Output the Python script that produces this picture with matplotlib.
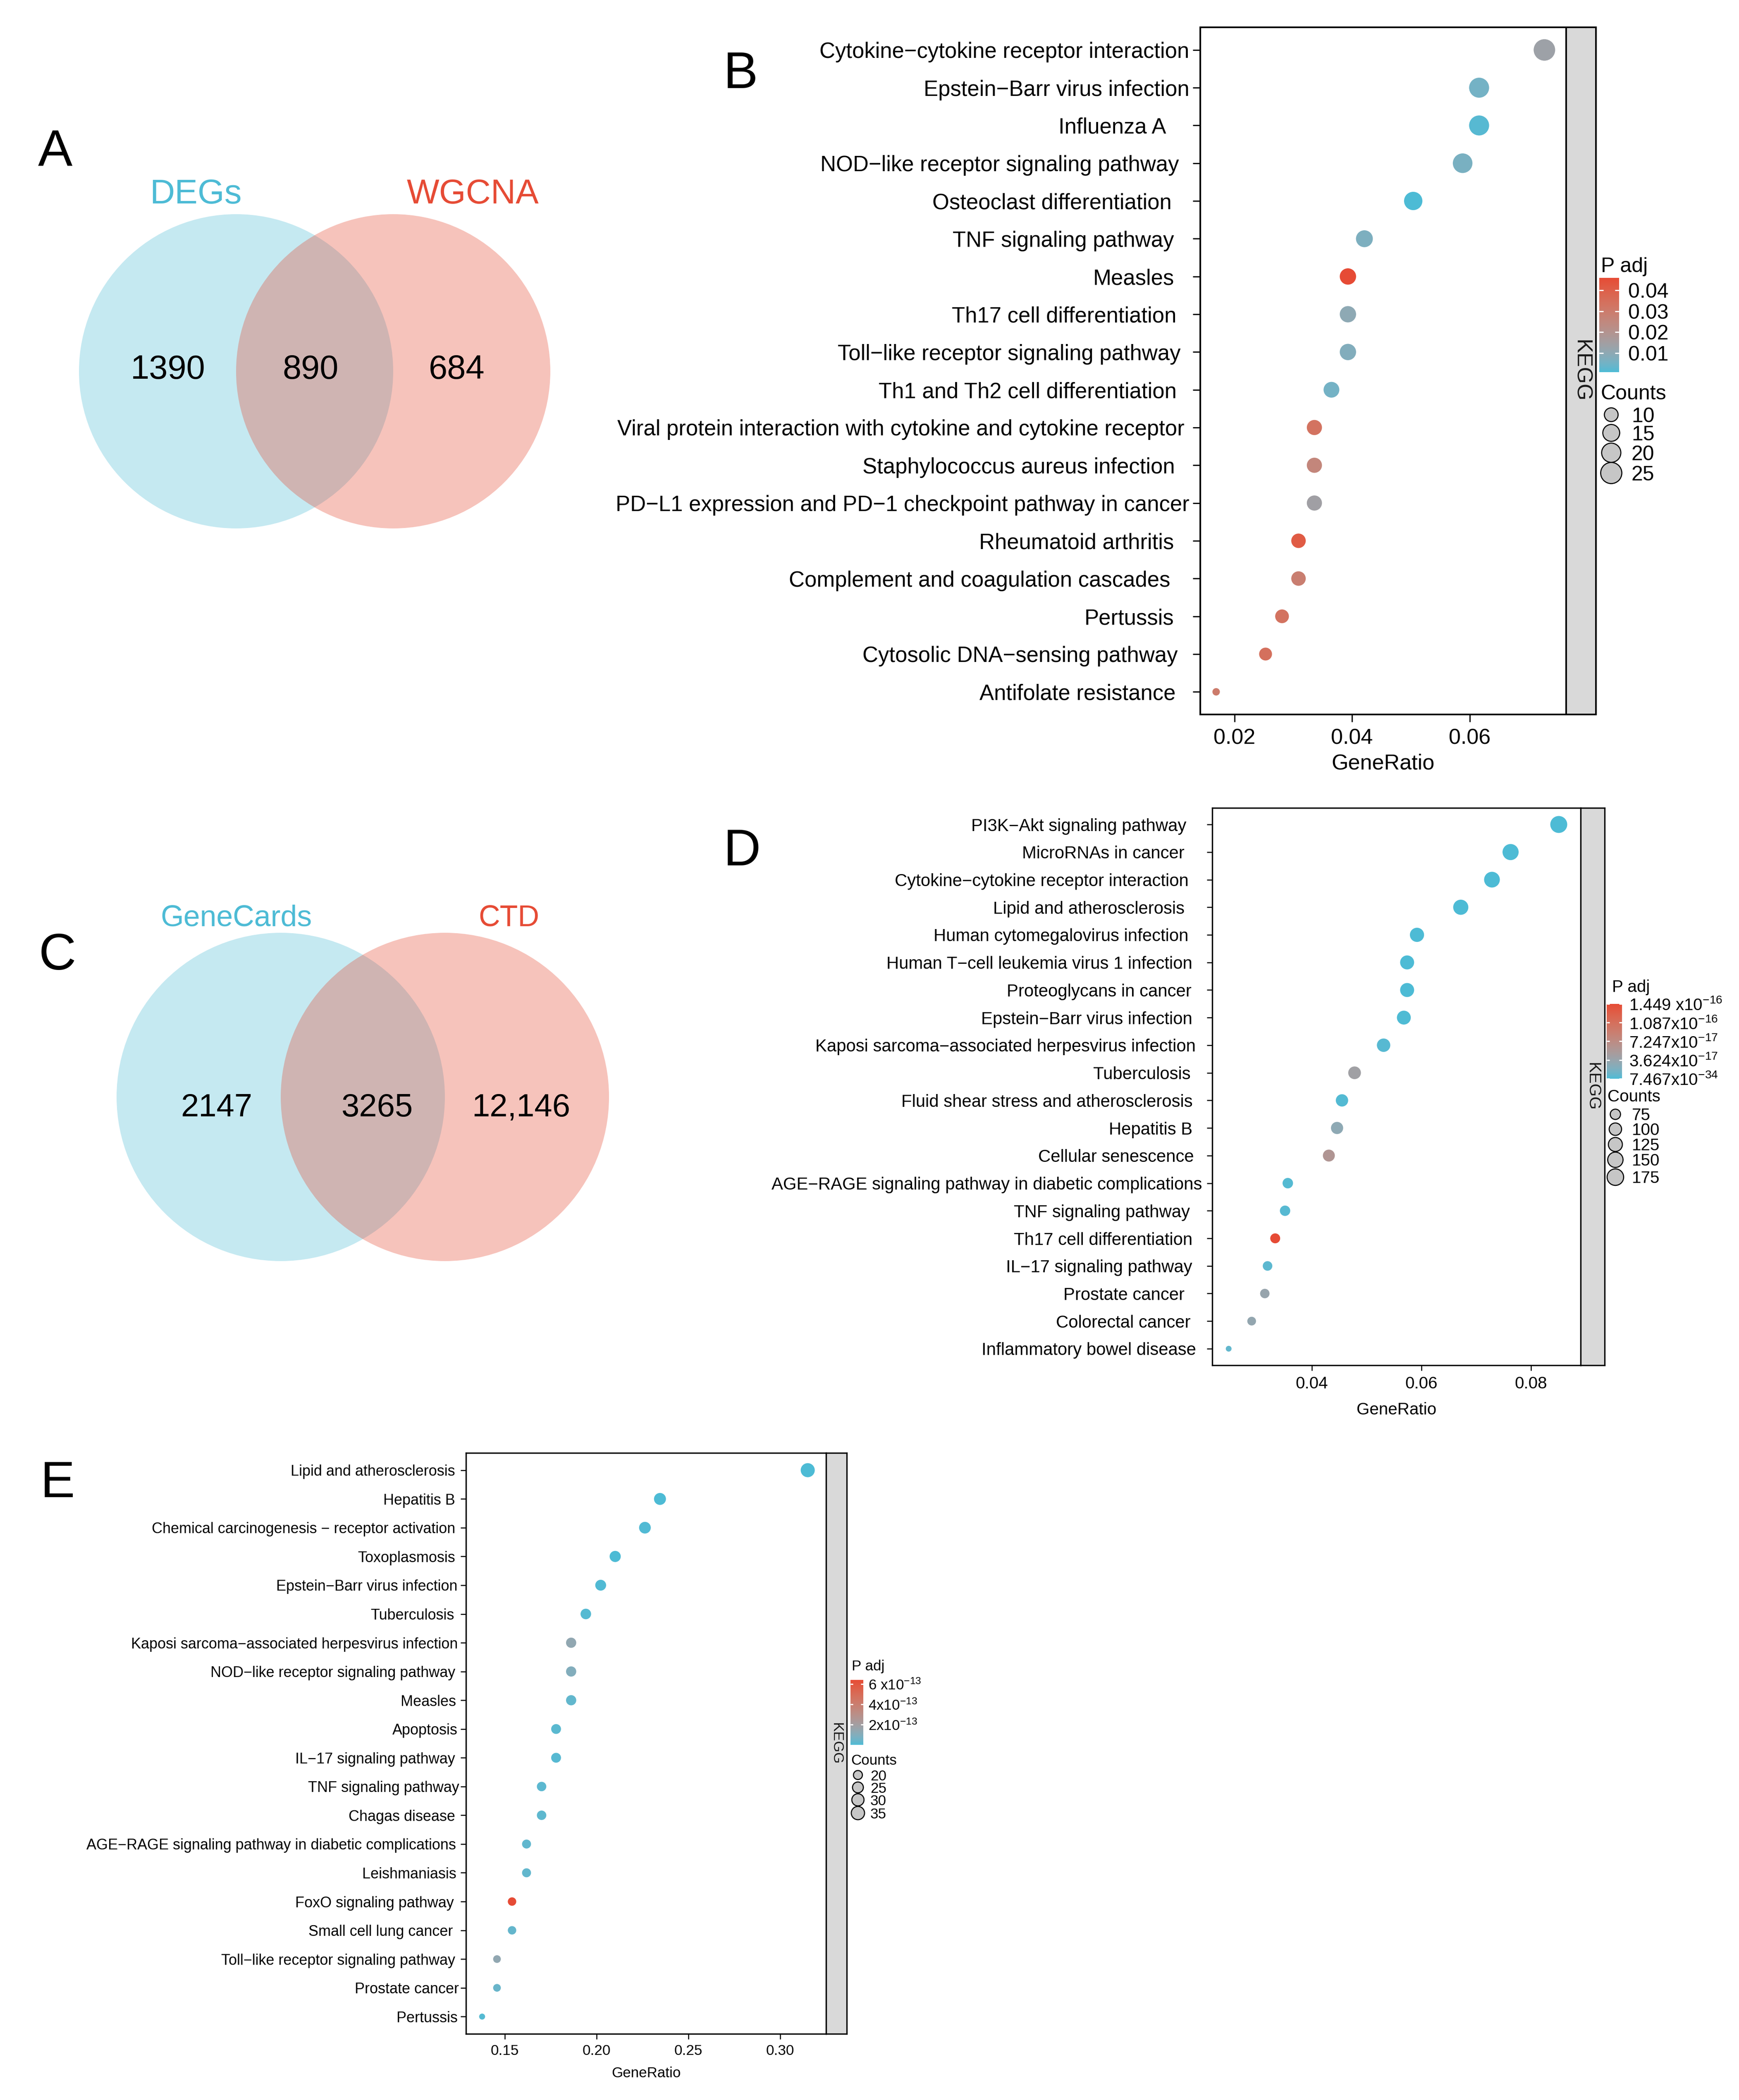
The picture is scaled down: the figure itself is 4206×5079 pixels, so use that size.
import numpy as np
import matplotlib
matplotlib.use("Agg")
import matplotlib.pyplot as plt
from matplotlib.colors import ListedColormap, Normalize, to_rgb
from matplotlib.patches import Circle
from matplotlib.cm import ScalarMappable
from matplotlib.transforms import ScaledTranslation

plt.rcParams["font.family"] = ["Liberation Sans", "DejaVu Sans"]
plt.rcParams["mathtext.fontset"] = "custom"
plt.rcParams["mathtext.rm"] = "Liberation Sans"
plt.rcParams["mathtext.it"] = "Liberation Sans:italic"
plt.rcParams["mathtext.bf"] = "Liberation Sans:bold"
plt.rcParams["mathtext.sf"] = "Liberation Sans"

# ------------------------------------------------------------------ DATA
vennA_sets = ["DEGs", "WGCNA"]
vennA_values = [1390, 890, 684]
vennC_sets = ["GeneCards", "CTD"]
vennC_values = [2147, 3265, 12146]

B_terms = ["Cytokine−cytokine receptor interaction", "Epstein−Barr virus infection",
           "Influenza A", "NOD−like receptor signaling pathway", "Osteoclast differentiation",
           "TNF signaling pathway", "Measles", "Th17 cell differentiation",
           "Toll−like receptor signaling pathway", "Th1 and Th2 cell differentiation",
           "Viral protein interaction with cytokine and cytokine receptor",
           "Staphylococcus aureus infection",
           "PD−L1 expression and PD−1 checkpoint pathway in cancer", "Rheumatoid arthritis",
           "Complement and coagulation cascades", "Pertussis", "Cytosolic DNA−sensing pathway",
           "Antifolate resistance"]
B_ratio = [0.0727, 0.0616, 0.0616, 0.0588, 0.0504, 0.0421, 0.0393, 0.0393, 0.0393, 0.0365,
           0.0336, 0.0336, 0.0336, 0.0309, 0.0309, 0.0281, 0.0253, 0.0169]
B_count = [26, 22, 22, 21, 18, 15, 14, 14, 14, 13, 12, 12, 12, 11, 11, 10, 9, 6]
B_padj = [0.0135, 0.0054, 0.0018, 0.0063, 0.0009, 0.0068, 0.0459, 0.0099, 0.0077, 0.0054,
          0.0333, 0.0257, 0.0144, 0.0414, 0.0288, 0.0333, 0.0342, 0.0302]
B_size_breaks = [10, 15, 20, 25]
B_color_ticks = [0.01, 0.02, 0.03, 0.04]
B_color_labels = ["0.01", "0.02", "0.03", "0.04"]
B_xticks = [0.02, 0.04, 0.06]

D_terms = ["PI3K−Akt signaling pathway", "MicroRNAs in cancer",
           "Cytokine−cytokine receptor interaction", "Lipid and atherosclerosis",
           "Human cytomegalovirus infection", "Human T−cell leukemia virus 1 infection",
           "Proteoglycans in cancer", "Epstein−Barr virus infection",
           "Kaposi sarcoma−associated herpesvirus infection", "Tuberculosis",
           "Fluid shear stress and atherosclerosis", "Hepatitis B", "Cellular senescence",
           "AGE−RAGE signaling pathway in diabetic complications", "TNF signaling pathway",
           "Th17 cell differentiation", "IL−17 signaling pathway", "Prostate cancer",
           "Colorectal cancer", "Inflammatory bowel disease"]
D_ratio = [0.0851, 0.0763, 0.0729, 0.0672, 0.0592, 0.0574, 0.0574, 0.0568, 0.0531, 0.0478,
           0.0455, 0.0446, 0.0431, 0.0356, 0.0351, 0.0333, 0.0319, 0.0314, 0.0290, 0.0248]
D_count = [185, 166, 158, 146, 128, 125, 125, 123, 115, 104, 99, 97, 94, 77, 76, 72, 69, 68,
           63, 54]
D_padj = [7.467e-34, 2.1e-22, 5.3e-24, 3.8e-21, 1.6e-19, 2.9e-19, 4.4e-19, 8.7e-19, 3.1e-18,
          4.3e-17, 1.9e-18, 2.9e-17, 5.8e-17, 2.4e-18, 3.3e-18, 1.449e-16, 4.6e-18, 3.6e-17,
          3.3e-17, 6.9e-18]
D_size_breaks = [75, 100, 125, 150, 175]
D_color_ticks = [7.467e-34, 3.624e-17, 7.247e-17, 1.087e-16, 1.449e-16]
D_color_labels = [r"7.467x10$^{-34}$", r"3.624x10$^{-17}$", r"7.247x10$^{-17}$",
                  r"1.087x10$^{-16}$", r"1.449 x10$^{-16}$"]
D_xticks = [0.04, 0.06, 0.08]

E_terms = ["Lipid and atherosclerosis", "Hepatitis B",
           "Chemical carcinogenesis − receptor activation", "Toxoplasmosis",
           "Epstein−Barr virus infection", "Tuberculosis",
           "Kaposi sarcoma−associated herpesvirus infection",
           "NOD−like receptor signaling pathway", "Measles", "Apoptosis",
           "IL−17 signaling pathway", "TNF signaling pathway", "Chagas disease",
           "AGE−RAGE signaling pathway in diabetic complications", "Leishmaniasis",
           "FoxO signaling pathway", "Small cell lung cancer",
           "Toll−like receptor signaling pathway", "Prostate cancer", "Pertussis"]
E_ratio = [0.3151, 0.2346, 0.2264, 0.2102, 0.2023, 0.1942, 0.1862, 0.1862, 0.1862, 0.1780,
           0.1780, 0.1701, 0.1701, 0.1619, 0.1619, 0.1540, 0.1540, 0.1458, 0.1458, 0.1377]
E_count = [39, 29, 28, 26, 25, 24, 23, 23, 23, 22, 22, 21, 21, 20, 20, 19, 19, 18, 18, 17]
E_padj = [1.2e-18, 3.4e-16, 5.1e-15, 2.3e-15, 6.7e-15, 1.1e-14, 1.4e-13, 9.6e-14, 3.2e-14,
          1.9e-14, 1.4e-14, 2.1e-14, 2.5e-14, 2.8e-14, 3.1e-14, 6.4e-13, 3.3e-14, 1.4e-13,
          4.5e-14, 1.2e-14]
E_size_breaks = [20, 25, 30, 35]
E_color_ticks = [2e-13, 4e-13, 6e-13]
E_color_labels = [r"2x10$^{-13}$", r"4x10$^{-13}$", r"6 x10$^{-13}$"]
E_xticks = [0.15, 0.20, 0.25, 0.30]

# ------------------------------------------------------------------ STYLE / LAYOUT
W, H = 4206, 5079
DPI = 300
PT = 72.0 / DPI          # points per pixel
LOW, HIGH = "#4DBBD5", "#E64B35"

# label right-edge offsets (px) to mimic the ragged label placement
B_shift = [0, 0, 56, 25, 43, 37, 37, 31, 21, 31, 12, 35, 0, 37, 46, 37, 28, 33]
D_shift = [38, 42, 32, 42, 32, 23, 25, 23, 15, 27, 22, 23, 19, 0, 29, 23, 23, 42, 27, 14]
E_shift = [10, 10, 10, 10, 4, 12, 4, 10, 8, 4, 10, 0, 10, 8, 7, 13, 16, 10, 1, 4]


def _lab(hexc):
    rgb = np.array(to_rgb(hexc))
    lin = np.where(rgb <= 0.04045, rgb / 12.92, ((rgb + 0.055) / 1.055) ** 2.4)
    xyz = M_XYZ @ lin / WHITE
    d = 6 / 29
    f = np.where(xyz > d ** 3, np.cbrt(xyz), xyz / (3 * d * d) + 4 / 29)
    return np.array([116 * f[1] - 16, 500 * (f[0] - f[1]), 200 * (f[1] - f[2])])


def _rgb_from_lab(lab):
    L, a, b = lab[:, 0], lab[:, 1], lab[:, 2]
    fy = (L + 16) / 116
    fx = fy + a / 500
    fz = fy - b / 200
    d = 6 / 29
    finv = lambda t: np.where(t > d, t ** 3, 3 * d * d * (t - 4 / 29))
    xyz = np.stack([finv(fx), finv(fy), finv(fz)], axis=1) * WHITE
    lin = np.clip(xyz @ np.linalg.inv(M_XYZ).T, 0, 1)
    rgb = np.where(lin <= 0.0031308, 12.92 * lin, 1.055 * lin ** (1 / 2.4) - 0.055)
    return np.clip(rgb, 0, 1)


M_XYZ = np.array([[0.4124564, 0.3575761, 0.1804375],
                  [0.2126729, 0.7151522, 0.0721750],
                  [0.0193339, 0.1191920, 0.9503041]])
WHITE = np.array([0.95047, 1.0, 1.08883])
_t = np.linspace(0, 1, 256)[:, None]
_l0, _l1 = _lab(LOW), _lab(HIGH)
CMAP = ListedColormap(_rgb_from_lab(_l0 + _t * (_l1 - _l0)))

fig = plt.figure(figsize=(W / DPI, H / DPI), dpi=DPI)


def rect(l, t, r, b):
    return [l / W, 1 - b / H, (r - l) / W, (b - t) / H]


ov = fig.add_axes([0, 0, 1, 1])
ov.set_xlim(0, W)
ov.set_ylim(H, 0)
ov.axis("off")
ov.patch.set_alpha(0)


def diam(c, cmin, cmax, dmin, dmax):
    c = np.asarray(c, dtype=float)
    return dmin + (dmax - dmin) * np.sqrt(np.clip((c - cmin) / (cmax - cmin), 0, 1))


def text_c(x, yc, s, fs, **kw):
    """place text with its cap-height centre at yc (pixels)"""
    em = fs / PT
    ov.text(x, yc + 0.358 * em, s, fontsize=fs, va="baseline", **kw)


# ------------------------------------------------------------------ VENN
def venn(c1, c2, r, sets, values, title_y, num_y, title_x, num_x, tfs, nfs):
    ov.add_patch(Circle(c1, r, facecolor=LOW, alpha=0.32, edgecolor="none"))
    ov.add_patch(Circle(c2, r, facecolor=HIGH, alpha=0.335, edgecolor="none"))
    ov.text(title_x[0], title_y, sets[0], color=LOW, fontsize=tfs, ha="center", va="baseline")
    ov.text(title_x[1], title_y, sets[1], color=HIGH, fontsize=tfs, ha="center", va="baseline")
    for x, v in zip(num_x, values):
        s = f"{v:,}" if v >= 10000 else str(v)
        ov.text(x, num_y, s, fontsize=nfs, ha="center", va="baseline", color="black")


venn((571, 898), (951, 898), 380, vennA_sets, vennA_values, 492, 916,
     (473, 1144), (406, 751, 1105), 20, 19.5)
venn((679, 2653), (1076, 2653), 397, vennC_sets, vennC_values, 2240, 2700,
     (571, 1231), (524, 912, 1260), 17.2, 18.7)

for lab, x, y in [("A", 92, 401), ("B", 1750, 213), ("C", 94, 2345), ("D", 1750, 2093),
                  ("E", 98, 3621)]:
    ov.text(x, y, lab, fontsize=30, va="baseline", ha="left")


# ------------------------------------------------------------------ DOT PANELS
def dot_panel(box, strip_r, terms, ratio, count, padj, xticks, xlim, fs, yfs, dmin, dmax,
              lw, ticklen, tickw, ypad, xpad, labelpad, shifts, xfmt):
    l, t, r, b = box
    ax = fig.add_axes(rect(l, t, r, b))
    n = len(terms)
    y = np.arange(n)
    norm = Normalize(min(padj), max(padj))
    d = diam(count, min(count), max(count), dmin, dmax)
    ax.scatter(ratio, y, s=(d * PT) ** 2, c=padj, cmap=CMAP, norm=norm, linewidths=0,
               zorder=3)
    ax.set_xlim(*xlim)
    ax.set_ylim(n - 1 + 0.6, -0.6)
    ax.set_yticks(y)
    ax.set_yticklabels(terms)
    ax.set_xticks(xticks)
    ax.set_xticklabels([xfmt.format(v) for v in xticks])
    ax.set_xlabel("GeneRatio", fontsize=fs, labelpad=labelpad)
    ax.tick_params(axis="both", length=ticklen * PT, width=tickw * PT, colors="black")
    ax.tick_params(axis="x", pad=xpad, labelsize=fs)
    ax.tick_params(axis="y", pad=ypad, labelsize=yfs)
    for sp in ax.spines.values():
        sp.set_linewidth(lw * PT)
    for lbl, sh in zip(ax.get_yticklabels(), shifts):
        lbl.set_transform(lbl.get_transform() +
                          ScaledTranslation(-sh * PT / 72.0, 0, fig.dpi_scale_trans))
    sax = fig.add_axes(rect(r, t, strip_r, b))
    sax.set_facecolor("#D9D9D9")
    sax.set_xticks([])
    sax.set_yticks([])
    for sp in sax.spines.values():
        sp.set_linewidth(lw * PT)
    sax.text(0.5, 0.5, "KEGG", rotation=-90, ha="center", va="center",
             transform=sax.transAxes, fontsize=fs, color="#1A1A1A")
    return norm


def legend(norm, cb_box, ticks, labels, title_pos, counts_pos, circ_x, circ_y, lab_x, breaks,
           cmin, cmax, dmin, dmax, fs, cbpad, cbtick):
    text_c(title_pos[0], title_pos[1], "P adj", fs, ha="left")
    cax = fig.add_axes(rect(*cb_box))
    cb = fig.colorbar(ScalarMappable(norm=norm, cmap=CMAP), cax=cax)
    cb.outline.set_visible(False)
    cb.set_ticks(ticks)
    cb.set_ticklabels(labels)
    cb.minorticks_off()
    cax.tick_params(axis="y", direction="in", length=cbtick * PT, width=3 * PT, color="white",
                    labelcolor="black", left=True, right=True, labelsize=fs, pad=cbpad)
    text_c(counts_pos[0], counts_pos[1], "Counts", fs, ha="left")
    dd = diam(breaks, cmin, cmax, dmin, dmax)
    ov.scatter([circ_x] * len(breaks), circ_y, s=(dd * PT) ** 2, facecolor="#C6C6C6",
               edgecolor="black", linewidths=2.6 * PT, zorder=5)
    for yy, bk in zip(circ_y, breaks):
        text_c(lab_x, yy, str(bk), fs, ha="left")


# Panel B
normB = dot_panel((2903, 66, 3788, 1728), 3860, B_terms, B_ratio, B_count, B_padj,
                  B_xticks, (0.0142, 0.0764), 12.5, 12.65, 18, 52, 4, 18, 3, 2.0, 3.6, 3.0,
                  B_shift, "{:.2f}")
legend(normB, (3868, 672, 3916, 900), B_color_ticks, B_color_labels, (3872, 640),
       (3872, 948), 3897, [1003, 1047, 1095, 1144], 3946, B_size_breaks,
       min(B_count), max(B_count), 18, 52, 12, 5.3, 10)

# Panel D
normD = dot_panel((2932, 1954, 3823, 3302), 3881, D_terms, D_ratio, D_count, D_padj,
                  D_xticks, (0.0218, 0.0891), 9.7, 10.05, 14, 41, 3.3, 13, 2.5, 2.9, 3.1, 6.0,
                  D_shift, "{:.2f}")
legend(normD, (3886, 2428, 3923, 2609), D_color_ticks, D_color_labels, (3899, 2385),
       (3888, 2650), 3907, [2695, 2731, 2768, 2805, 2847], 3947, D_size_breaks,
       min(D_count), max(D_count), 14, 41, 9.7, 4.0, 7)

# Panel E
normE = dot_panel((1127, 3514, 1998, 4919), 2048, E_terms, E_ratio, E_count, E_padj,
                  E_xticks, (0.1289, 0.3251), 8.4, 8.65, 14.5, 34, 3.3, 12.7, 2.5, 0.8, 2.9,
                  5.0, E_shift, "{:.2f}")
legend(normE, (2057, 4063, 2088, 4220), E_color_ticks, E_color_labels, (2060, 4027),
       (2058, 4255), 2075, [4293, 4323, 4353, 4385], 2105, E_size_breaks,
       min(E_count), max(E_count), 14.5, 34, 8.4, 2.9, 6)

fig.savefig("out.png", dpi=DPI, facecolor="white")
